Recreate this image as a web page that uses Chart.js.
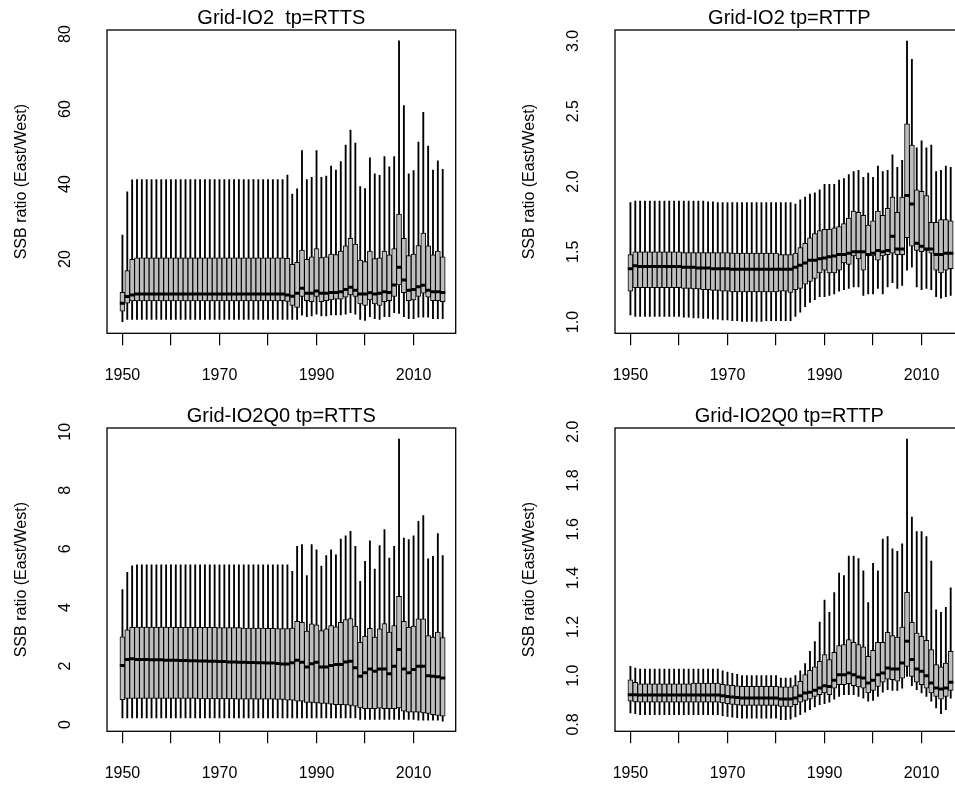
<!DOCTYPE html>
<html>
<head>
<meta charset="utf-8">
<script src="https://cdn.jsdelivr.net/npm/chart.js@4.4.1/dist/chart.umd.min.js"></script>
<style>
  html, body { margin: 0; padding: 0; background: #fff; }
  body { width: 955px; height: 785px; position: relative; overflow: hidden; }
  canvas { position: absolute; }
</style>
</head>
<body>
<canvas id="io2Rtts" width="508" height="392" style="left:0;top:0"></canvas>
<canvas id="io2Rttp" width="508" height="392" style="left:508px;top:0"></canvas>
<canvas id="q0Rtts" width="508" height="392" style="left:0;top:398px"></canvas>
<canvas id="q0Rttp" width="508" height="392" style="left:508px;top:398px"></canvas>
<script>
// years on the x axis, one box per year
const years = [
  1950, 1951, 1952, 1953, 1954, 1955, 1956, 1957, 1958, 1959,
  1960, 1961, 1962, 1963, 1964, 1965, 1966, 1967, 1968, 1969,
  1970, 1971, 1972, 1973, 1974, 1975, 1976, 1977, 1978, 1979,
  1980, 1981, 1982, 1983, 1984, 1985, 1986, 1987, 1988, 1989,
  1990, 1991, 1992, 1993, 1994, 1995, 1996, 1997, 1998, 1999,
  2000, 2001, 2002, 2003, 2004, 2005, 2006, 2007, 2008, 2009,
  2010, 2011, 2012, 2013, 2014, 2015, 2016
];
const xTicks = [1950, 1960, 1970, 1980, 1990, 2000, 2010];
const xLabels = [1950, 1970, 1990, 2010];

// Grid-IO2, tp=RTTS
const io2RttsHi = [
  26.4, 37.9, 41.1, 41.2, 41.2, 41.2, 41.2, 41.2, 41.2, 41.2,
  41.2, 41.2, 41.2, 41.2, 41.2, 41.2, 41.2, 41.2, 41.2, 41.2,
  41.2, 41.2, 41.2, 41.2, 41.2, 41.2, 41.2, 41.2, 41.2, 41.2,
  41.2, 41.2, 41.2, 41.2, 42.4, 37.3, 38.7, 48.9, 41.2, 41.8,
  48.9, 41.8, 42.1, 44.8, 43.7, 46.0, 50.4, 54.4, 50.9, 39.3,
  38.8, 47.0, 42.7, 42.3, 47.3, 44.6, 47.3, 78.2, 60.9, 42.7,
  43.6, 51.2, 59.1, 50.1, 43.7, 46.2, 43.9
];
const io2RttsQ3 = [
  11.1, 16.9, 19.9, 20.3, 20.3, 20.3, 20.3, 20.3, 20.3, 20.3,
  20.3, 20.3, 20.3, 20.3, 20.3, 20.3, 20.3, 20.3, 20.3, 20.3,
  20.3, 20.3, 20.3, 20.3, 20.3, 20.3, 20.3, 20.3, 20.3, 20.3,
  20.3, 20.3, 20.3, 20.3, 20.2, 18.6, 19.1, 22.4, 19.9, 20.6,
  22.8, 20.4, 20.6, 21.3, 21.2, 22.1, 23.5, 25.5, 24.0, 19.7,
  19.3, 22.1, 20.1, 20.3, 22.1, 21.1, 22.8, 32.0, 25.5, 20.9,
  21.3, 23.6, 26.9, 23.5, 21.1, 22.1, 20.6
];
const io2RttsMed = [
  8.2, 10.0, 10.4, 10.7, 10.7, 10.7, 10.7, 10.7, 10.7, 10.7,
  10.7, 10.7, 10.7, 10.7, 10.7, 10.7, 10.7, 10.7, 10.7, 10.7,
  10.7, 10.7, 10.7, 10.7, 10.7, 10.7, 10.7, 10.7, 10.7, 10.7,
  10.7, 10.7, 10.7, 10.7, 10.4, 10.1, 10.9, 12.2, 10.9, 10.9,
  11.5, 10.9, 10.9, 11.1, 11.1, 11.3, 11.9, 12.5, 11.7, 10.7,
  10.7, 11.0, 10.7, 10.9, 11.3, 11.1, 13.1, 17.8, 14.4, 11.7,
  11.9, 12.6, 13.0, 11.7, 11.3, 11.3, 11.1
];
const io2RttsQ1 = [
  6.1, 8.2, 8.8, 8.8, 8.8, 8.8, 8.8, 8.8, 8.8, 8.8,
  8.8, 8.8, 8.8, 8.8, 8.8, 8.8, 8.8, 8.8, 8.8, 8.8,
  8.8, 8.8, 8.8, 8.8, 8.8, 8.8, 8.8, 8.8, 8.8, 8.8,
  8.8, 8.8, 8.8, 8.9, 8.7, 7.6, 7.1, 10.0, 8.9, 8.6,
  10.0, 8.6, 8.9, 9.1, 9.3, 9.3, 9.8, 10.4, 10.0, 8.0,
  7.6, 9.1, 8.0, 7.6, 8.6, 8.9, 10.0, 13.1, 11.0, 8.9,
  9.1, 10.0, 10.9, 9.8, 8.9, 8.9, 8.6
];
const io2RttsLo = [
  3.3, 3.9, 3.9, 3.9, 3.9, 3.9, 3.9, 3.9, 3.9, 3.9,
  3.9, 3.9, 3.9, 3.9, 3.9, 3.9, 3.9, 3.9, 3.9, 3.9,
  3.9, 3.9, 3.9, 3.9, 3.9, 3.9, 3.9, 3.9, 3.9, 3.9,
  3.9, 3.9, 3.9, 3.9, 3.9, 3.9, 3.9, 5.0, 4.6, 4.8,
  5.3, 4.8, 4.8, 5.1, 5.1, 5.1, 5.3, 5.7, 5.3, 3.9,
  3.6, 4.6, 4.1, 3.9, 4.6, 4.6, 5.7, 5.5, 4.6, 4.1,
  4.1, 4.5, 4.5, 4.5, 4.1, 4.1, 4.1
];
const io2RttsTicks = [20, 40, 60, 80];

// Grid-IO2, tp=RTTP
const io2RttpHi = [
  1.85, 1.86, 1.86, 1.86, 1.86, 1.86, 1.86, 1.86, 1.86, 1.86,
  1.86, 1.86, 1.86, 1.86, 1.86, 1.86, 1.855, 1.855, 1.85, 1.85,
  1.85, 1.85, 1.85, 1.85, 1.85, 1.85, 1.85, 1.85, 1.85, 1.85,
  1.85, 1.85, 1.85, 1.85, 1.84, 1.87, 1.89, 1.91, 1.92, 1.94,
  1.98, 1.98, 1.98, 2.01, 2.02, 2.05, 2.07, 2.08, 2.03, 2.06,
  2.03, 2.11, 2.07, 2.08, 2.19, 2.10, 2.15, 3.00, 2.87, 2.24,
  2.29, 2.24, 2.26, 2.07, 2.08, 2.11, 2.10
];
const io2RttpQ3 = [
  1.48, 1.50, 1.50, 1.50, 1.50, 1.50, 1.50, 1.50, 1.50, 1.50,
  1.50, 1.495, 1.495, 1.495, 1.495, 1.495, 1.495, 1.495, 1.495, 1.495,
  1.495, 1.49, 1.49, 1.49, 1.49, 1.49, 1.49, 1.49, 1.49, 1.49,
  1.49, 1.48, 1.48, 1.48, 1.49, 1.53, 1.56, 1.60, 1.63, 1.65,
  1.66, 1.66, 1.67, 1.68, 1.70, 1.74, 1.79, 1.78, 1.76, 1.69,
  1.72, 1.79, 1.76, 1.81, 1.89, 1.78, 1.89, 2.41, 2.26, 1.94,
  1.93, 1.90, 1.71, 1.71, 1.73, 1.73, 1.72
];
const io2RttpMed = [
  1.38, 1.40, 1.395, 1.395, 1.395, 1.395, 1.395, 1.395, 1.395, 1.395,
  1.395, 1.39, 1.39, 1.39, 1.385, 1.385, 1.385, 1.38, 1.38, 1.38,
  1.38, 1.375, 1.375, 1.375, 1.375, 1.375, 1.375, 1.375, 1.375, 1.375,
  1.375, 1.375, 1.375, 1.375, 1.39, 1.405, 1.42, 1.44, 1.44, 1.45,
  1.455, 1.465, 1.47, 1.48, 1.48, 1.49, 1.50, 1.50, 1.50, 1.48,
  1.49, 1.51, 1.50, 1.51, 1.61, 1.52, 1.52, 1.90, 1.84, 1.56,
  1.54, 1.52, 1.52, 1.48, 1.48, 1.49, 1.49
];
const io2RttpQ1 = [
  1.22, 1.245, 1.245, 1.245, 1.245, 1.245, 1.245, 1.245, 1.245, 1.245,
  1.245, 1.24, 1.24, 1.235, 1.235, 1.23, 1.23, 1.225, 1.225, 1.22,
  1.22, 1.215, 1.215, 1.215, 1.215, 1.215, 1.215, 1.215, 1.215, 1.215,
  1.215, 1.22, 1.22, 1.21, 1.23, 1.24, 1.27, 1.29, 1.31, 1.35,
  1.37, 1.35, 1.35, 1.37, 1.42, 1.41, 1.47, 1.45, 1.37, 1.47,
  1.47, 1.44, 1.47, 1.48, 1.49, 1.48, 1.48, 1.60, 1.54, 1.51,
  1.50, 1.51, 1.49, 1.37, 1.35, 1.37, 1.38
];
const io2RttpLo = [
  1.05, 1.04, 1.04, 1.04, 1.04, 1.04, 1.04, 1.04, 1.04, 1.04,
  1.04, 1.035, 1.035, 1.03, 1.03, 1.025, 1.025, 1.02, 1.02, 1.015,
  1.015, 1.01, 1.01, 1.005, 1.005, 1.005, 1.005, 1.005, 1.01, 1.01,
  1.01, 1.01, 1.01, 1.01, 1.04, 1.07, 1.11, 1.14, 1.16, 1.18,
  1.18, 1.19, 1.20, 1.22, 1.23, 1.24, 1.25, 1.25, 1.19, 1.20,
  1.20, 1.24, 1.20, 1.25, 1.28, 1.24, 1.26, 1.37, 1.39, 1.25,
  1.23, 1.24, 1.23, 1.18, 1.17, 1.18, 1.19
];
const io2RttpTicks = [1.0, 1.5, 2.0, 2.5, 3.0];

// Grid-IO2Q0, tp=RTTS
const q0RttsHi = [
  4.61, 5.20, 5.42, 5.46, 5.46, 5.46, 5.46, 5.46, 5.46, 5.46,
  5.46, 5.46, 5.46, 5.46, 5.46, 5.46, 5.46, 5.46, 5.46, 5.46,
  5.46, 5.46, 5.46, 5.46, 5.46, 5.46, 5.46, 5.46, 5.46, 5.46,
  5.46, 5.46, 5.46, 5.46, 5.46, 5.23, 6.09, 6.15, 5.09, 6.15,
  5.97, 5.41, 5.77, 5.97, 5.80, 6.34, 6.45, 6.60, 6.09, 4.89,
  5.58, 6.28, 5.31, 6.11, 6.66, 5.69, 6.09, 9.75, 6.37, 6.32,
  6.45, 6.94, 7.14, 5.66, 5.75, 6.52, 5.77
];
const q0RttsQ3 = [
  3.00, 3.24, 3.32, 3.33, 3.33, 3.33, 3.33, 3.33, 3.33, 3.33,
  3.33, 3.32, 3.32, 3.32, 3.32, 3.32, 3.32, 3.32, 3.32, 3.32,
  3.31, 3.31, 3.31, 3.31, 3.31, 3.30, 3.30, 3.30, 3.30, 3.30,
  3.29, 3.29, 3.28, 3.28, 3.28, 3.30, 3.53, 3.49, 3.19, 3.44,
  3.41, 3.21, 3.27, 3.38, 3.34, 3.49, 3.59, 3.62, 3.36, 2.81,
  3.02, 3.29, 2.99, 3.27, 3.45, 3.16, 3.38, 4.38, 3.53, 3.32,
  3.36, 3.61, 3.61, 3.04, 2.99, 3.16, 2.97
];
const q0RttsMed = [
  2.02, 2.22, 2.25, 2.22, 2.22, 2.22, 2.21, 2.21, 2.21, 2.20,
  2.20, 2.20, 2.19, 2.19, 2.18, 2.18, 2.17, 2.17, 2.16, 2.16,
  2.15, 2.15, 2.14, 2.14, 2.13, 2.13, 2.12, 2.12, 2.11, 2.11,
  2.10, 2.10, 2.09, 2.07, 2.07, 2.11, 2.20, 2.13, 1.97, 2.08,
  2.13, 1.97, 1.97, 2.02, 2.05, 2.05, 2.14, 2.16, 1.94, 1.65,
  1.77, 1.90, 1.82, 1.90, 1.90, 1.74, 1.99, 2.56, 1.90, 1.77,
  1.88, 1.99, 1.99, 1.67, 1.65, 1.63, 1.59
];
const q0RttsQ1 = [
  0.85, 0.89, 0.89, 0.89, 0.89, 0.89, 0.89, 0.89, 0.89, 0.89,
  0.89, 0.89, 0.89, 0.89, 0.89, 0.89, 0.88, 0.88, 0.88, 0.88,
  0.88, 0.88, 0.88, 0.88, 0.87, 0.87, 0.87, 0.87, 0.87, 0.87,
  0.87, 0.87, 0.86, 0.86, 0.83, 0.83, 0.80, 0.80, 0.76, 0.76,
  0.74, 0.72, 0.72, 0.70, 0.68, 0.68, 0.67, 0.65, 0.63, 0.57,
  0.54, 0.54, 0.54, 0.56, 0.54, 0.54, 0.54, 0.57, 0.46, 0.42,
  0.42, 0.42, 0.40, 0.38, 0.34, 0.31, 0.29
];
const q0RttsLo = [
  0.23, 0.23, 0.23, 0.23, 0.23, 0.23, 0.23, 0.23, 0.23, 0.23,
  0.23, 0.23, 0.23, 0.23, 0.23, 0.23, 0.23, 0.23, 0.23, 0.23,
  0.23, 0.23, 0.23, 0.23, 0.23, 0.23, 0.23, 0.23, 0.23, 0.23,
  0.23, 0.23, 0.23, 0.23, 0.23, 0.23, 0.23, 0.23, 0.23, 0.23,
  0.23, 0.23, 0.23, 0.23, 0.23, 0.23, 0.23, 0.23, 0.23, 0.18,
  0.18, 0.18, 0.18, 0.18, 0.18, 0.18, 0.18, 0.18, 0.18, 0.18,
  0.18, 0.15, 0.15, 0.15, 0.15, 0.15, 0.12
];
const q0RttsTicks = [0, 2, 4, 6, 8, 10];

// Grid-IO2Q0, tp=RTTP
const q0RttpHi = [
  1.038, 1.031, 1.027, 1.027, 1.027, 1.027, 1.027, 1.027, 1.027, 1.027,
  1.027, 1.027, 1.027, 1.027, 1.027, 1.027, 1.027, 1.027, 1.027, 1.02,
  1.015, 1.01, 1.005, 1.00, 1.00, 1.00, 1.00, 1.00, 1.00, 1.00,
  1.00, 0.99, 0.99, 0.99, 1.00, 1.02, 1.05, 1.10, 1.14, 1.22,
  1.31, 1.26, 1.34, 1.42, 1.41, 1.49, 1.49, 1.48, 1.43, 1.30,
  1.46, 1.43, 1.56, 1.57, 1.52, 1.51, 1.54, 1.97, 1.65, 1.59,
  1.59, 1.57, 1.47, 1.27, 1.26, 1.28, 1.36
];
const q0RttpQ3 = [
  0.983, 0.973, 0.967, 0.967, 0.967, 0.967, 0.967, 0.967, 0.967, 0.967,
  0.967, 0.967, 0.967, 0.970, 0.970, 0.970, 0.970, 0.970, 0.970, 0.965,
  0.962, 0.960, 0.958, 0.956, 0.956, 0.956, 0.956, 0.956, 0.956, 0.956,
  0.956, 0.954, 0.954, 0.954, 0.959, 0.977, 1.004, 1.022, 1.036, 1.059,
  1.086, 1.066, 1.096, 1.123, 1.127, 1.148, 1.137, 1.127, 1.118, 1.079,
  1.104, 1.137, 1.137, 1.178, 1.164, 1.158, 1.199, 1.342, 1.219, 1.175,
  1.161, 1.145, 1.107, 1.045, 1.036, 1.052, 1.100
];
const q0RttpMed = [
  0.922, 0.922, 0.921, 0.921, 0.921, 0.921, 0.921, 0.921, 0.921, 0.921,
  0.921, 0.921, 0.921, 0.921, 0.921, 0.921, 0.921, 0.921, 0.921, 0.918,
  0.915, 0.913, 0.911, 0.908, 0.908, 0.908, 0.908, 0.908, 0.908, 0.908,
  0.908, 0.904, 0.904, 0.904, 0.908, 0.918, 0.929, 0.932, 0.940, 0.949,
  0.959, 0.956, 0.981, 1.004, 1.004, 1.011, 1.004, 0.995, 0.990, 0.970,
  0.981, 1.004, 1.011, 1.031, 1.027, 1.027, 1.052, 1.141, 1.066, 1.027,
  1.018, 1.000, 0.970, 0.949, 0.945, 0.949, 0.973
];
const q0RttpQ1 = [
  0.895, 0.892, 0.891, 0.891, 0.891, 0.891, 0.891, 0.891, 0.891, 0.891,
  0.891, 0.891, 0.891, 0.891, 0.891, 0.891, 0.891, 0.891, 0.891, 0.888,
  0.885, 0.882, 0.880, 0.878, 0.878, 0.878, 0.878, 0.878, 0.878, 0.878,
  0.878, 0.874, 0.874, 0.872, 0.881, 0.891, 0.899, 0.904, 0.915, 0.922,
  0.929, 0.922, 0.949, 0.963, 0.963, 0.967, 0.959, 0.954, 0.949, 0.929,
  0.940, 0.956, 0.973, 0.986, 0.984, 0.977, 0.990, 1.038, 0.997, 0.973,
  0.963, 0.949, 0.929, 0.915, 0.904, 0.915, 0.940
];
const q0RttpLo = [
  0.847, 0.844, 0.840, 0.840, 0.840, 0.840, 0.840, 0.840, 0.840, 0.840,
  0.840, 0.840, 0.840, 0.840, 0.840, 0.840, 0.840, 0.840, 0.840, 0.836,
  0.833, 0.830, 0.828, 0.826, 0.826, 0.826, 0.826, 0.826, 0.826, 0.826,
  0.826, 0.820, 0.820, 0.822, 0.831, 0.840, 0.850, 0.861, 0.872, 0.881,
  0.885, 0.891, 0.904, 0.915, 0.922, 0.922, 0.922, 0.915, 0.908, 0.895,
  0.899, 0.915, 0.932, 0.943, 0.940, 0.940, 0.949, 0.997, 0.959, 0.943,
  0.929, 0.915, 0.895, 0.868, 0.844, 0.861, 0.908
];
const q0RttpTicks = [0.8, 1.0, 1.2, 1.4, 1.6, 1.8, 2.0];

const FONT = '"Liberation Sans", Arial, sans-serif';

const panels = [
  { id: 'io2Rtts', title: 'Grid-IO2  tp=RTTS', lo: io2RttsLo, q1: io2RttsQ1, med: io2RttsMed, q3: io2RttsQ3, hi: io2RttsHi,
    ticks: io2RttsTicks, digits: 0, yMin: 0.19, yMax: 81.07 },
  { id: 'io2Rttp', title: 'Grid-IO2 tp=RTTP', lo: io2RttpLo, q1: io2RttpQ1, med: io2RttpMed, q3: io2RttpQ3, hi: io2RttpHi,
    ticks: io2RttpTicks, digits: 1, yMin: 0.92, yMax: 3.078 },
  { id: 'q0Rtts', title: 'Grid-IO2Q0 tp=RTTS', lo: q0RttsLo, q1: q0RttsQ1, med: q0RttsMed, q3: q0RttsQ3, hi: q0RttsHi,
    ticks: q0RttsTicks, digits: 0, yMin: -0.23, yMax: 10.13 },
  { id: 'q0Rttp', title: 'Grid-IO2Q0 tp=RTTP', lo: q0RttpLo, q1: q0RttpQ1, med: q0RttpMed, q3: q0RttpQ3, hi: q0RttpHi,
    ticks: q0RttpTicks, digits: 1, yMin: 0.772, yMax: 2.015 }
];

// frame, title, rotated y labels and y axis title in base-graphics style
const rFrame = {
  id: 'rFrame',
  afterDraw(chart, args, opts) {
    const ctx = chart.ctx;
    const a = chart.chartArea;
    const y = chart.scales.y;
    ctx.save();
    ctx.strokeStyle = '#000';
    ctx.lineWidth = 1.3;
    ctx.strokeRect(a.left, a.top, a.right - a.left, a.bottom - a.top);
    ctx.fillStyle = '#000';
    ctx.textAlign = 'center';
    ctx.textBaseline = 'middle';
    ctx.font = '20px ' + FONT;
    ctx.fillText(opts.title, (a.left + a.right) / 2, a.top - 12);
    ctx.font = '16px ' + FONT;
    opts.ticks.forEach(function (v) {
      ctx.save();
      ctx.translate(a.left - 41, y.getPixelForValue(v));
      ctx.rotate(-Math.PI / 2);
      ctx.fillText(v.toFixed(opts.digits), 0, 0);
      ctx.restore();
    });
    ctx.save();
    ctx.translate(a.left - 85, (a.top + a.bottom) / 2);
    ctx.rotate(-Math.PI / 2);
    ctx.fillText('SSB ratio (East/West)', 0, 0);
    ctx.restore();
    ctx.restore();
  }
};

panels.forEach(function (p) {
  const whisk = years.map((yr, i) => ({ x: yr, y: [p.lo[i], p.hi[i]] }));
  const boxes = years.map((yr, i) => ({ x: yr, y: [p.q1[i], p.q3[i]] }));
  const meds = years.map((yr, i) => ({ x: yr, y: p.med[i] }));

  new Chart(document.getElementById(p.id), {
    type: 'bar',
    data: {
      datasets: [
        { type: 'scatter', order: 0, data: meds, showLine: false,
          pointStyle: 'line', pointRadius: 2.6, pointHoverRadius: 2.6,
          pointBorderWidth: 3, pointHoverBorderWidth: 3,
          pointBorderColor: '#000', borderColor: '#000' },
        { type: 'bar', order: 1, data: boxes, grouped: false, barThickness: 5,
          backgroundColor: '#bebebe', borderColor: '#000', borderWidth: 1, borderSkipped: false },
        { type: 'bar', order: 2, data: whisk, grouped: false, barThickness: 1.2,
          backgroundColor: '#000', borderWidth: 0 }
      ]
    },
    options: {
      responsive: false,
      animation: false,
      devicePixelRatio: 1,
      events: [],
      layout: { padding: { left: 107, right: 52.3, top: 30, bottom: 0 } },
      plugins: {
        legend: { display: false },
        tooltip: { enabled: false },
        rFrame: { title: p.title, ticks: p.ticks, digits: p.digits }
      },
      scales: {
        x: {
          type: 'linear',
          min: 1946.82,
          max: 2018.68,
          offset: false,
          afterBuildTicks: function (s) { s.ticks = xTicks.map(v => ({ value: v })); },
          afterFit: function (s) { s.height = 58.7; },
          grid: { drawOnChartArea: false, drawTicks: true, tickLength: 12, color: '#000', lineWidth: 1.2, offset: false },
          border: { display: false },
          ticks: {
            autoSkip: false, maxRotation: 0, padding: 21, color: '#000',
            font: { family: FONT, size: 16 },
            callback: function (v) { return xLabels.includes(v) ? String(v) : ''; }
          }
        },
        y: {
          display: false,
          min: p.yMin,
          max: p.yMax,
          afterBuildTicks: function (s) { s.ticks = p.ticks.map(v => ({ value: v })); }
        }
      }
    },
    plugins: [rFrame]
  });
});
</script>
</body>
</html>
